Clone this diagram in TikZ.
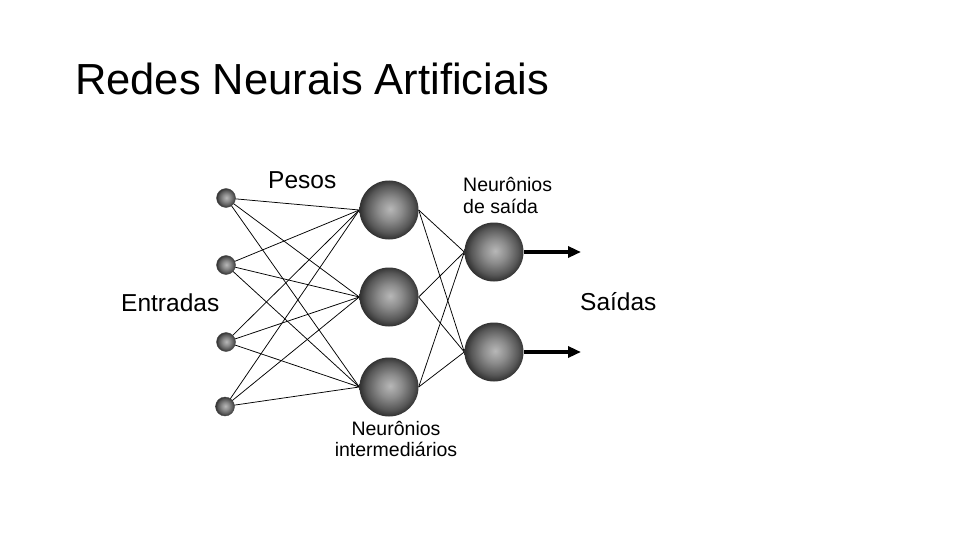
\documentclass[tikz,border=0pt]{standalone}
\usepackage{fontspec}
\setmainfont{Liberation Sans}
\usetikzlibrary{arrows.meta,backgrounds}
\pgfdeclareradialshading{neuronshade}{\pgfpoint{1bp}{1bp}}{color(0bp)=(black!28); color(10bp)=(black!45); color(20bp)=(black!66); color(25bp)=(black!80); color(50bp)=(black!82)}
\tikzset{
  big/.style={circle, minimum size=59pt, inner sep=0pt, shading=neuronshade},
  small/.style={circle, minimum size=19pt, inner sep=0pt, shading=neuronshade, draw=black!70, line width=0.4pt},
  wire/.style={line width=0.75pt, black},
  outarrow/.style={line width=3.2pt, -{Triangle[length=13pt,width=11pt]}},
  lbl/.style={anchor=base west, inner sep=0pt, font=\fontsize{24.5}{28}\selectfont},
  sublbl/.style={anchor=base west, inner sep=0pt, align=left, font=\fontsize{19.5}{21.5}\selectfont}
}
\begin{document}
\begin{tikzpicture}[x=1pt,y=-1pt]
\useasboundingbox (0,0) rectangle (960,540);
\node[anchor=base west, inner sep=0pt, font=\fontsize{43.5}{50}\selectfont] (title) at (75,95) {Redes Neurais Artificiais};
% inputs
\node[small] (i1) at (226,198) {};
\node[small] (i2) at (226,265) {};
\node[small] (i3) at (226,342) {};
\node[small] (i4) at (225,406.5) {};
% hidden
\node[big] (h1) at (389,210) {};
\node[big] (h2) at (389,297) {};
\node[big] (h3) at (389,387) {};
% outputs
\node[big] (o1) at (494,252) {};
\node[big] (o2) at (494,352) {};
\coordinate (a1) at (581,252);
\coordinate (a2) at (581,352);
\begin{scope}[on background layer]
\foreach \i in {1,2,3,4}{
  \foreach \h in {1,2,3}{
    \draw[wire] (i\i.center) -- (h\h.west);
  }
}
\foreach \h in {1,2,3}{
  \foreach \o in {1,2}{
    \draw[wire] (h\h.east) -- (o\o.west);
  }
}
\end{scope}
\draw[outarrow] (o1.east) -- (a1);
\draw[outarrow] (o2.east) -- (a2);
% labels
\node[lbl] (pesos) at (268,188.5) {Pesos};
\node[lbl] (entradas) at (121,311) {Entradas};
\node[lbl] (saidas) at (580,310.5) {Saídas};
\node[sublbl] (nsaida) at (463,213.3) {Neurônios\\de saída};
\node[anchor=base, inner sep=0pt, align=center, font=\fontsize{19.5}{21}\selectfont] (ninter) at (396,456.7) {Neurônios\\intermediários};
\end{tikzpicture}
\end{document}
